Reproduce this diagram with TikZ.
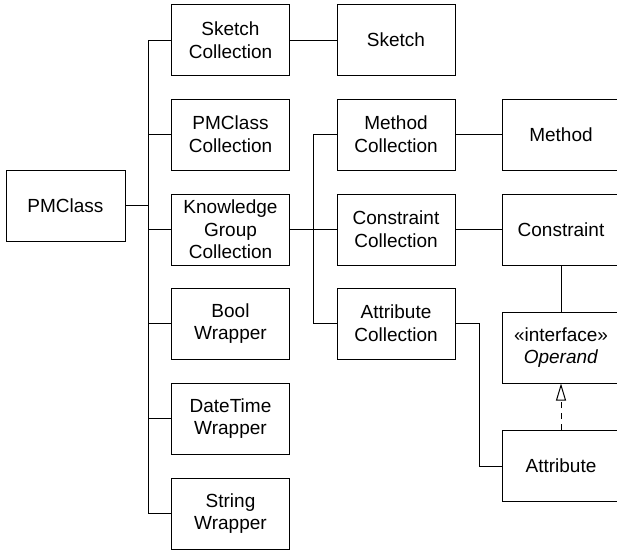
\documentclass[tikz,border=0pt]{standalone}
\usepackage{fontspec}
\setmainfont{Liberation Sans}
\usetikzlibrary{arrows.meta}

\begin{document}
\begin{tikzpicture}[x=1pt, y=-1pt, line width=1pt,
		cls/.style={draw, rectangle, minimum width=118pt, minimum height=71pt, align=center, inner sep=0pt, font=\fontsize{19}{22.7}\selectfont}]
			\useasboundingbox (0, 0) rectangle (617, 549);

			\draw (65.5, 205.5) 	node[cls, minimum width=119pt] 	(pmclass) 		{PMClass};
			\draw (230.5, 40) 	node[cls] 	(sketch_coll) 	{Sketch\\Collection};
			\draw (230.5, 134.5) 	node[cls] 	(pmclass_coll) 	{PMClass\\Collection};
			\draw (230.5, 229.5) 	node[cls] 	(kgroup_coll) 	{Knowledge\\Group\\Collection};
			\draw (230.5, 323.5) 	node[cls] 	(bool_wr) 		{Bool\\Wrapper};
			\draw (230.5, 418.5) 	node[cls] 	(datetime_wr) 	{DateTime\\Wrapper};
			\draw (230.5, 513.5) 	node[cls] 	(string_wr) 	{String\\Wrapper};
			\draw (396, 40) 		node[cls] 	(sketch) 		{Sketch};
			\draw (396, 134.5) 	node[cls] 	(method_coll) 	{Method\\Collection};
			\draw (396, 229.5) 	node[cls] 	(constr_coll) 	{Constraint\\Collection};
			\draw (396, 323.5) 	node[cls] 	(attr_coll) 	{Attribute\\Collection};
			\draw (561, 134.5) 	node[cls] 	(method) 		{Method};
			\draw (561, 229.5) 	node[cls] 	(constr) 		{Constraint};
			\draw (561, 347.5) 	node[cls] 	(operand) 		{«interface»\\\textit{Operand}};
			\draw (561, 466) 		node[cls] 	(attr) 			{Attribute};

			\coordinate (trunk_a) at (148, 0);
			\coordinate (trunk_b) at (313, 0);
			\coordinate (bend_c) at (479, 0);

			\draw (pmclass.east) -- (pmclass.east -| trunk_a);
			\draw (sketch_coll.west) -- (sketch_coll.west -| trunk_a) -- (string_wr.west -| trunk_a) -- (string_wr.west);
			\foreach \n in {pmclass_coll, kgroup_coll, bool_wr, datetime_wr}
				\draw (\n.west) -- (\n.west -| trunk_a);
			\draw (sketch_coll) -- (sketch);
			\draw (kgroup_coll) -- (constr_coll);
			\draw (method_coll.west) -- (method_coll.west -| trunk_b) -- (attr_coll.west -| trunk_b) -- (attr_coll.west);
			\draw (method_coll) -- (method);
			\draw (constr_coll) -- (constr);
			\draw (constr) -- (operand);
			\draw (attr_coll.east) -- (attr_coll.east -| bend_c) |- (attr.west);
			\draw[dash pattern=on 6pt off 5pt, -{Triangle[open, length=17pt, width=10pt]}] (attr) -- (operand);
		\end{tikzpicture}
\end{document}
